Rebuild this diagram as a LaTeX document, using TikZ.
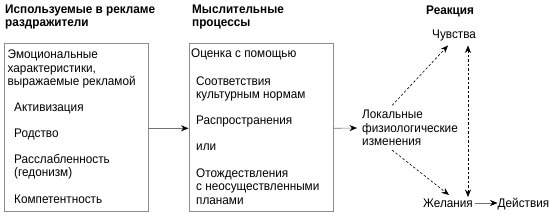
\documentclass[tikz,border=0pt]{standalone}
\usepackage{fontspec}
\setmainfont{Liberation Sans}[FakeStretch=0.94]
\usetikzlibrary{arrows.meta,calc}
\begin{document}
\begin{tikzpicture}[x=1pt,y=-1pt,
  txt/.style={anchor=base west,inner sep=0pt,font=\fontsize{12.5}{13.5}\selectfont},
  hdr/.style={anchor=base west,inner sep=0pt,font=\fontsize{12.5}{13}\selectfont\bfseries},
  box/.style={draw=black!45,line width=0.6pt,inner sep=0pt,anchor=north west},
  tip/.style={-{Stealth[length=7.5pt,width=6pt,black]}},
  conn/.style={draw=black!55,line width=0.6pt,tip},
  dconn/.style={draw=black,line width=0.6pt,dash pattern=on 2.5pt off 2pt,tip},
  ]
\useasboundingbox (0,0) rectangle (550,214);
% headers
\node[hdr] (h1a) at (5,13.5) {Используемые в рекламе};
\node[hdr] (h1b) at (5,26.5) {раздражители};
\node[hdr] (h2a) at (192,13.5) {Мыслительные};
\node[hdr] (h2b) at (192,26.5) {процессы};
\node[hdr] (h3) at (426,15) {Реакция};
% boxes
\node[box,minimum width=143.5pt,minimum height=168pt] (lbox) at (4,43) {};
\node[box,minimum width=144.5pt,minimum height=168pt] (mbox) at (188.5,43) {};
% left box text
\node[txt] (l1) at (7.5,58.5) {Эмоциональные};
\node[txt] (l2) at (7.5,72) {характеристики,};
\node[txt] (l3) at (7.5,85.5) {выражаемые рекламой};
\node[txt] (l4) at (14,111) {Активизация};
\node[txt] (l5) at (14,137) {Родство};
\node[txt] (l6) at (14,163) {Расслабленность};
\node[txt] (l7) at (14,176.5) {(гедонизм)};
\node[txt] (l8) at (14,203.5) {Компетентность};
% middle box text
\node[txt] (m1) at (191,57.5) {Оценка с помощью};
\node[txt] (m2) at (196,85) {Соответствия};
\node[txt] (m3) at (196,98.5) {культурным нормам};
\node[txt] (m4) at (196,124.5) {Распространения};
\node[txt] (m5) at (196,150.5) {или};
\node[txt] (m6) at (196,177) {Отождествления};
\node[txt] (m7) at (196,190.5) {с неосуществленными};
\node[txt] (m8) at (196,204) {планами};
% right
\node[txt] (lok) at (362,118.5) {Локальные};
\node[txt] (fiz) at (362,132) {физиологические};
\node[txt] (izm) at (362,145.5) {изменения};
\node[txt] (feel) at (432,38.5) {Чувства};
\node[txt] (wish) at (423,207) {Желания};
\node[txt] (act) at (497.5,207) {Действия};
% connectors
\draw[conn] ($(lbox.east)+(0,1)$) -- ($(mbox.west)+(0,1)$);
\draw[conn] ($(mbox.east)+(0,1)$) -- ($(fiz.base west)+(-5,-4)$);
\draw[conn] ($(wish.base east)+(1.5,-4)$) -- ($(act.base west)+(0,-4)$);
\draw[dconn] ($(lok.base west)+(30,-13)$) -- ($(feel.base west)+(16,7)$);
\draw[dconn] ($(izm.base west)+(30,4.5)$) -- ($(wish.base west)+(26,-12)$);
\draw[dconn,{Stealth[length=7.5pt,width=6pt,black]}-{Stealth[length=7.5pt,width=6pt,black]}] ($(feel.base west)+(36,7)$) -- ($(wish.base west)+(45,-10)$);
\end{tikzpicture}
\end{document}
